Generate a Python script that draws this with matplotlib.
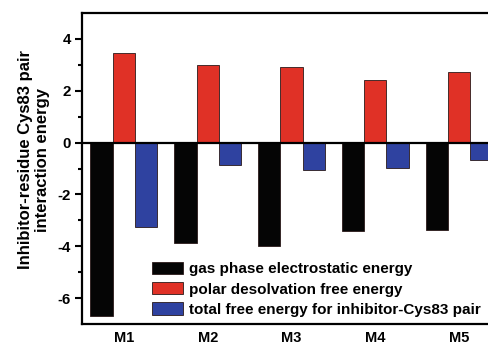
import matplotlib.pyplot as plt
import numpy as np

plt.rcParams['font.family'] = ['Liberation Sans', 'DejaVu Sans']
plt.rcParams['font.weight'] = 'bold'

# data
molecules = ["M1", "M2", "M3", "M4", "M5"]
gas_phase = [-6.70, -3.88, -4.00, -3.41, -3.37]
polar_desolv = [3.44, 3.01, 2.92, 2.42, 2.71]
total_free = [-3.27, -0.85, -1.06, -0.98, -0.68]
series_labels = ["gas phase electrostatic energy",
                 "polar desolvation free energy",
                 "total free energy for inhibitor-Cys83 pair"]
colors = ["#050505", "#E03126", "#2F42A0"]

fig = plt.figure(figsize=(4.89, 3.44), dpi=100)
# axes runs past the right edge, like the cropped original
ax = fig.add_axes([82/489, 20/344, 419/489, 311/344])

x = np.arange(1, len(molecules) + 1)
w = 0.266
for i, (vals, lab, c) in enumerate(zip([gas_phase, polar_desolv, total_free], series_labels, colors)):
    ax.bar(x + (i - 1) * w, vals, width=w, color=c, edgecolor="#2a1a1a", linewidth=0.6, label=lab)

ax.axhline(0, color="black", linewidth=1.6, zorder=3)

ax.set_xlim(0.5, 5.5)
ax.set_ylim(-7, 5)
ax.set_xticks(x)
ax.set_xticklabels(molecules, fontsize=10.5, fontweight="bold")
ax.tick_params(axis="x", length=0, pad=5)
ax.set_yticks([-6, -4, -2, 0, 2, 4])
ax.set_yticklabels(["-6", "-4", "-2", "0", "2", "4"], fontsize=10.8, fontweight="bold")
ax.set_yticks([-5, -3, -1, 1, 3], minor=True)
ax.tick_params(axis="y", which="major", direction="out", length=5, width=1.5, pad=3)
ax.tick_params(axis="y", which="minor", direction="out", length=3, width=1.5)

for s in ["left", "top", "bottom"]:
    ax.spines[s].set_linewidth(1.6)
ax.spines["right"].set_visible(False)

fig.text(34/489, 0.535, "Inhibitor-residue Cys83 pair\ninteraction energy",
         rotation=90, ha="center", va="center", fontsize=12, fontweight="bold",
         linespacing=1.15)

ax.legend(loc="upper left", bbox_to_anchor=(152/489, 1 - 262/344),
          bbox_transform=fig.transFigure, frameon=False,
          borderpad=0, borderaxespad=0, handlelength=2.05, handleheight=0.85,
          handletextpad=0.4, labelspacing=0.38, prop={"weight": "bold", "size": 11})

fig.savefig("out.png", dpi=100)
